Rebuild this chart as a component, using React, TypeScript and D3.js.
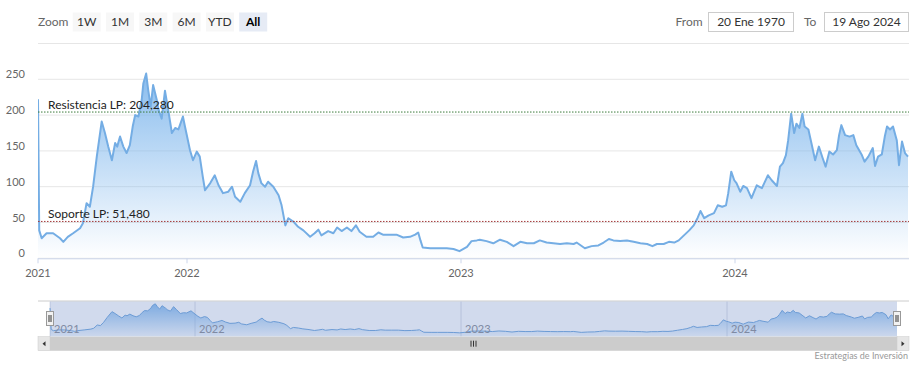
import React from "react";
import * as d3 from "d3";

// ---------- data ----------
const prices2021: [string, number][] = [
  ["2021-01-01", 222], ["2021-01-04", 39], ["2021-01-10", 28], ["2021-01-22", 35],
  ["2021-02-07", 35], ["2021-02-24", 28], ["2021-03-04", 23], ["2021-03-15", 30],
  ["2021-03-28", 35], ["2021-04-14", 42], ["2021-04-21", 49], ["2021-04-30", 77],
  ["2021-05-08", 72], ["2021-05-16", 100], ["2021-05-25", 142], ["2021-06-06", 191],
  ["2021-06-14", 175], ["2021-06-22", 156], ["2021-07-01", 137], ["2021-07-09", 161],
  ["2021-07-14", 156], ["2021-07-21", 170], ["2021-07-29", 156], ["2021-08-06", 147],
  ["2021-08-14", 158], ["2021-08-21", 184], ["2021-08-27", 200], ["2021-09-04", 198],
  ["2021-09-12", 221], ["2021-09-16", 244], ["2021-09-23", 258], ["2021-09-28", 235],
  ["2021-10-04", 212], ["2021-10-10", 242], ["2021-10-19", 221], ["2021-10-23", 208],
  ["2021-10-31", 195], ["2021-11-08", 234], ["2021-11-16", 207], ["2021-11-25", 175],
  ["2021-12-03", 182], ["2021-12-11", 180], ["2021-12-22", 198], ["2021-12-27", 184],
];
const prices2022: [string, number][] = [
  ["2022-01-05", 151], ["2022-01-09", 137], ["2022-01-14", 149], ["2022-01-18", 142],
  ["2022-01-22", 114], ["2022-01-25", 95], ["2022-02-01", 105], ["2022-02-07", 116],
  ["2022-02-12", 102], ["2022-02-18", 91], ["2022-02-25", 93], ["2022-03-02", 100],
  ["2022-03-06", 86], ["2022-03-13", 79], ["2022-03-19", 91], ["2022-03-26", 102],
  ["2022-03-30", 121], ["2022-04-03", 136], ["2022-04-06", 119], ["2022-04-10", 105],
  ["2022-04-15", 100], ["2022-04-19", 107], ["2022-04-26", 100], ["2022-05-03", 88],
  ["2022-05-07", 74], ["2022-05-12", 46], ["2022-05-16", 56], ["2022-05-23", 51],
  ["2022-05-29", 44], ["2022-06-05", 39], ["2022-06-14", 30], ["2022-06-20", 35],
  ["2022-06-25", 40], ["2022-06-29", 32], ["2022-07-08", 38], ["2022-07-15", 35],
  ["2022-07-20", 43], ["2022-07-26", 38], ["2022-08-02", 43], ["2022-08-08", 38],
  ["2022-08-14", 46], ["2022-08-19", 37], ["2022-08-28", 30], ["2022-09-06", 30],
  ["2022-09-13", 36], ["2022-09-19", 33], ["2022-09-28", 33], ["2022-10-07", 33],
  ["2022-10-16", 29], ["2022-10-25", 30], ["2022-11-01", 33], ["2022-11-05", 36],
  ["2022-11-08", 25], ["2022-11-11", 15], ["2022-11-21", 14], ["2022-11-30", 14],
  ["2022-12-13", 14], ["2022-12-22", 13], ["2022-12-30", 10],
];
const prices2023: [string, number][] = [
  ["2023-01-09", 16], ["2023-01-15", 24], ["2023-01-22", 25], ["2023-01-26", 26],
  ["2023-02-04", 24], ["2023-02-13", 21], ["2023-02-22", 26], ["2023-03-03", 23],
  ["2023-03-12", 17], ["2023-03-21", 23], ["2023-03-30", 21], ["2023-04-08", 21],
  ["2023-04-16", 25], ["2023-04-25", 22], ["2023-05-04", 21], ["2023-05-13", 20],
  ["2023-05-22", 21], ["2023-05-31", 20], ["2023-06-04", 22], ["2023-06-15", 14],
  ["2023-06-24", 17], ["2023-07-03", 18], ["2023-07-10", 22], ["2023-07-17", 27],
  ["2023-07-23", 25], ["2023-08-01", 24], ["2023-08-10", 25], ["2023-08-19", 23],
  ["2023-08-28", 21], ["2023-09-06", 20], ["2023-09-13", 17], ["2023-09-19", 20],
  ["2023-09-28", 20], ["2023-10-05", 23], ["2023-10-12", 22], ["2023-10-18", 25],
  ["2023-10-25", 32], ["2023-11-01", 39], ["2023-11-07", 46], ["2023-11-12", 56],
  ["2023-11-16", 66], ["2023-11-21", 56], ["2023-11-27", 60], ["2023-12-04", 63],
  ["2023-12-09", 74], ["2023-12-15", 72], ["2023-12-20", 74], ["2023-12-23", 91],
  ["2023-12-27", 121], ["2023-12-31", 109],
];
const prices2024: [string, number][] = [
  ["2024-01-03", 105], ["2024-01-08", 93], ["2024-01-12", 101], ["2024-01-17", 98],
  ["2024-01-23", 84], ["2024-01-30", 102], ["2024-02-06", 98], ["2024-02-10", 107],
  ["2024-02-14", 116], ["2024-02-19", 109], ["2024-02-26", 101], ["2024-03-01", 128],
  ["2024-03-05", 133], ["2024-03-09", 144], ["2024-03-12", 165], ["2024-03-16", 202],
  ["2024-03-20", 175], ["2024-03-23", 188], ["2024-03-27", 182], ["2024-03-31", 202],
  ["2024-04-03", 184], ["2024-04-08", 180], ["2024-04-12", 161], ["2024-04-17", 137],
  ["2024-04-22", 156], ["2024-04-27", 140], ["2024-05-01", 128], ["2024-05-06", 149],
  ["2024-05-11", 145], ["2024-05-16", 151], ["2024-05-19", 172], ["2024-05-22", 186],
  ["2024-05-27", 172], ["2024-06-02", 170], ["2024-06-07", 172], ["2024-06-11", 158],
  ["2024-06-18", 145], ["2024-06-22", 135], ["2024-06-27", 142], ["2024-07-03", 154],
  ["2024-07-06", 129], ["2024-07-10", 142], ["2024-07-15", 145], ["2024-07-19", 170],
  ["2024-07-22", 184], ["2024-07-26", 180], ["2024-07-30", 184], ["2024-08-04", 165],
  ["2024-08-07", 130], ["2024-08-11", 163], ["2024-08-15", 147], ["2024-08-19", 142],
];

// axis breakpoints (ordinal-like compression of 2021)
const axisBreaks = ["2021-01-01", "2022-01-01", "2023-01-01", "2024-01-01", "2024-08-19"];
const xTickLabels = ["2021", "2022", "2023", "2024"];
const yTicks = [0, 50, 100, 150, 200, 250, 300];
const zoomButtons = ["1W", "1M", "3M", "6M", "YTD", "All"];
const resistance = 204.28;
const support = 51.48;
const resistanceLabel = "Resistencia LP: 204,280";
const supportLabel = "Soporte LP: 51,480";
const fromDate = "20 Ene 1970";
const toDate = "19 Ago 2024";
const credits = "Estrategias de Inversión";

const FONT = "Lato, 'Open Sans', 'Liberation Sans', sans-serif";

type P = { date: Date; v: number };
const parse = d3.timeParse("%Y-%m-%d");
const data: P[] = [...prices2021, ...prices2022, ...prices2023, ...prices2024].map(
  ([d, v]) => ({ date: parse(d) as Date, v })
);
const breaks = axisBreaks.map((d) => parse(d) as Date);

export default function App() {
  const W = 919, H = 369;
  // main plot
  const x = d3.scaleTime().domain(breaks).range([38, 187, 461, 735, 908]);
  const y = d3.scaleLinear().domain([0, 300]).range([258.3, 43.5]);
  const plotL = 38, plotR = 909;

  const area = d3.area<P>().x((d) => x(d.date)).y0(y(0)).y1((d) => y(d.v));
  const line = d3.line<P>().x((d) => x(d.date)).y((d) => y(d.v));

  // navigator
  const navTop = 301, navBot = 336.7;
  const nx = d3.scaleTime().domain(breaks).range([50, 195, 461, 727, 897]);
  const ny = d3.scaleLinear().domain([-23, 265]).range([navBot, 303]);
  const navArea = d3.area<P>().x((d) => nx(d.date)).y0(navBot).y1((d) => ny(d.v));
  const navLine = d3.line<P>().x((d) => nx(d.date)).y((d) => ny(d.v));

  const tickDates = xTickLabels.map((t) => parse(`${t}-01-01`) as Date);

  const sbTop = 336.7, sbH = 14;

  return (
    <svg
      width={W}
      height={H}
      style={{ position: "absolute", left: 0, top: 0, fontFamily: FONT }}
    >
      <defs>
        <linearGradient id="areaGrad" x1="0" y1="0" x2="0" y2="1">
          <stop offset="0" stopColor="#7cb5ec" stopOpacity={0.9} />
          <stop offset="1" stopColor="#7cb5ec" stopOpacity={0} />
        </linearGradient>
        <linearGradient id="navGrad" x1="0" y1="0" x2="0" y2="1">
          <stop offset="0" stopColor="#7cb5ec" stopOpacity={0.9} />
          <stop offset="1" stopColor="#7cb5ec" stopOpacity={0.05} />
        </linearGradient>
        <clipPath id="plotClip">
          <rect x={plotL} y={40} width={plotR - plotL} height={260} />
        </clipPath>
      </defs>
      <rect width={W} height={H} fill="#ffffff" />

      {/* range selector */}
      <text x={38} y={26} fontSize={12} fill="#666">Zoom</text>
      {zoomButtons.map((b, i) => {
        const bx = 72.7 + i * 33.3;
        const sel = b === "All";
        return (
          <g key={b}>
            <rect x={bx} y={12.5} width={28} height={19} fill={sel ? "#e6ebf5" : "#f7f7f7"} />
            <text
              x={bx + 14}
              y={26}
              textAnchor="middle"
              fontSize={12}
              fontWeight={sel ? "bold" : "normal"}
              fill={sel ? "#000" : "#333"}
            >
              {b}
            </text>
          </g>
        );
      })}
      <text x={675.5} y={26} fontSize={12} fill="#666">From</text>
      <rect x={708.5} y={12.5} width={85} height={19} fill="#fff" stroke="#cccccc" />
      <text x={751} y={26} textAnchor="middle" fontSize={12} fill="#333">{fromDate}</text>
      <text x={804} y={26} fontSize={12} fill="#666">To</text>
      <rect x={824.5} y={12.5} width={84} height={19} fill="#fff" stroke="#cccccc" />
      <text x={866.5} y={26} textAnchor="middle" fontSize={12} fill="#333">{toDate}</text>

      {/* grid */}
      {yTicks.map((t) => (
        <line key={t} x1={plotL} x2={plotR} y1={y(t)} y2={y(t)} stroke="#e6e6e6" />
      ))}
      {yTicks
        .filter((t) => t !== 300)
        .map((t) => (
          <text key={t} x={25} y={y(t) - 1} textAnchor="end" fontSize={11} fill="#666">
            {t}
          </text>
        ))}

      {/* series */}
      <g clipPath="url(#plotClip)">
        <path d={area(data) ?? ""} fill="url(#areaGrad)" />
        <path d={line(data) ?? ""} fill="none" stroke="#74ade4" strokeWidth={2} strokeLinejoin="round" />
      </g>

      {/* plot lines */}
      <line x1={plotL} x2={plotR} y1={y(resistance)} y2={y(resistance)} stroke="#3a7a3a" strokeDasharray="1.5,1.5" />
      <text x={48} y={y(resistance) - 3} fontSize={12} fill="#222">{resistanceLabel}</text>
      <line x1={plotL} x2={plotR} y1={y(support)} y2={y(support)} stroke="#a33a3a" strokeDasharray="1.5,1.5" />
      <text x={48} y={y(support) - 3} fontSize={12} fill="#222">{supportLabel}</text>

      {/* x axis */}
      <line x1={plotL} x2={plotR} y1={y(0) + 0.5} y2={y(0) + 0.5} stroke="#ccd6eb" />
      {tickDates.map((d, i) => (
        <g key={i}>
          <line x1={x(d)} x2={x(d)} y1={y(0)} y2={y(0) + 5} stroke="#ccd6eb" />
          <text x={x(d)} y={y(0) + 18.5} textAnchor="middle" fontSize={11} fill="#666">
            {xTickLabels[i]}
          </text>
        </g>
      ))}

      {/* navigator */}
      <line x1={plotL} x2={plotR} y1={navTop} y2={navTop} stroke="#cccccc" />
      {tickDates.map((d, i) => (
        <line key={i} x1={nx(d)} x2={nx(d)} y1={navTop} y2={navBot} stroke="#d8dce6" />
      ))}
      <path d={navArea(data) ?? ""} fill="url(#navGrad)" />
      <path d={navLine(data) ?? ""} fill="none" stroke="#6fa6dd" strokeWidth={1} />
      <rect x={50} y={navTop + 0.5} width={847} height={navBot - navTop - 0.5} fill="rgba(102,133,194,0.3)" />
      {tickDates.map((d, i) => (
        <text key={i} x={nx(d) + 4} y={333} fontSize={11} fill="#7f8aa3">
          {xTickLabels[i]}
        </text>
      ))}
      {[50, 897].map((hx) => (
        <g key={hx}>
          <rect x={hx - 3.5} y={311.5} width={7} height={14} fill="#f2f2f2" stroke="#999" />
          <line x1={hx - 1} x2={hx - 1} y1={315} y2={322} stroke="#333" />
          <line x1={hx + 1} x2={hx + 1} y1={315} y2={322} stroke="#333" />
        </g>
      ))}

      {/* scrollbar */}
      <rect x={plotL} y={sbTop} width={plotR - plotL} height={sbH} fill="#f2f2f2" />
      <rect x={50} y={sbTop} width={847} height={sbH} fill="#cccccc" />
      <rect x={plotL} y={sbTop} width={12} height={sbH} fill="#e6e6e6" stroke="#cccccc" strokeWidth={0.5} />
      <rect x={897} y={sbTop} width={12} height={sbH} fill="#e6e6e6" stroke="#cccccc" strokeWidth={0.5} />
      <path d={`M ${42.5} ${sbTop + 7} L ${45.5} ${sbTop + 4.5} L ${45.5} ${sbTop + 9.5} Z`} fill="#333" />
      <path d={`M ${904.5} ${sbTop + 7} L ${901.5} ${sbTop + 4.5} L ${901.5} ${sbTop + 9.5} Z`} fill="#333" />
      {[-2.5, 0, 2.5].map((o) => (
        <line key={o} x1={473.5 + o} x2={473.5 + o} y1={sbTop + 4} y2={sbTop + 10} stroke="#333" />
      ))}

      {/* credits */}
      <text x={908} y={358.5} textAnchor="end" fontSize={9} fill="#999">{credits}</text>
    </svg>
  );
}
